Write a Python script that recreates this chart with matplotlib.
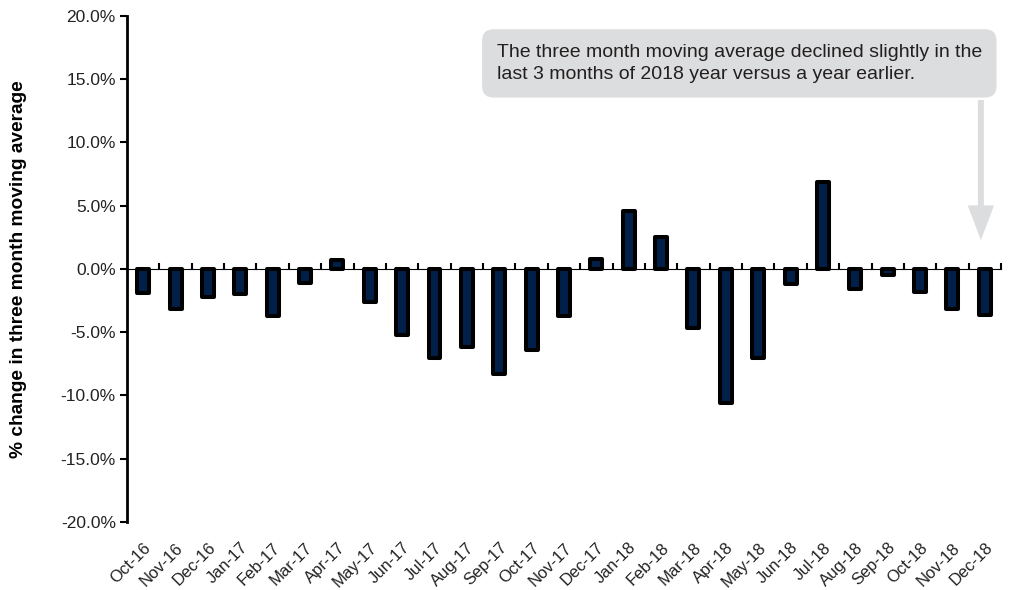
import matplotlib
matplotlib.use("Agg")
import matplotlib.pyplot as plt
from matplotlib.ticker import FuncFormatter
import numpy as np

months = ["Oct-16", "Nov-16", "Dec-16", "Jan-17", "Feb-17", "Mar-17", "Apr-17",
          "May-17", "Jun-17", "Jul-17", "Aug-17", "Sep-17", "Oct-17", "Nov-17",
          "Dec-17", "Jan-18", "Feb-18", "Mar-18", "Apr-18", "May-18", "Jun-18",
          "Jul-18", "Aug-18", "Sep-18", "Oct-18", "Nov-18", "Dec-18"]
pct_change = [-1.9, -3.2, -2.2, -2.0, -3.7, -1.1, 0.7, -2.6, -5.2, -7.0, -6.2, -8.3,
              -6.4, -3.7, 0.8, 4.6, 2.5, -4.7, -10.6, -7.0, -1.2, 6.9, -1.6, -0.5,
              -1.8, -3.2, -3.6]
y_ticks = [-20, -15, -10, -5, 0, 5, 10, 15, 20]
note = ("The three month moving average declined slightly in the\n"
        "last 3 months of 2018 year versus a year earlier.")

plt.rcParams['font.family'] = ['Liberation Sans Narrow', 'Liberation Sans', 'DejaVu Sans']

fig = plt.figure(figsize=(10.11, 5.90), dpi=100)
ax = fig.add_axes([0.1256, 0.1153, 0.8645, 0.8576])

x = np.arange(len(months))
ax.bar(x, pct_change, width=0.37, color="#00204A", edgecolor="black",
       linewidth=2.9, joinstyle="round", zorder=3)

ax.set_xlim(-0.5, len(months) - 0.5)
ax.set_ylim(-20, 20)
ax.set_yticks(y_ticks)
ax.yaxis.set_major_formatter(FuncFormatter(lambda v, p: f"{v:.1f}%"))
ax.tick_params(axis='y', direction='out', length=5, width=1.5, labelsize=12.5, pad=3,
               labelcolor="#222222")

ax.set_xticks(x)
ax.set_xticklabels(months, rotation=45, ha='right', rotation_mode='anchor', fontsize=12,
                   color="#222222")
ax.tick_params(axis='x', length=0, pad=13)

for s in ["top", "right", "bottom"]:
    ax.spines[s].set_visible(False)
ax.spines["left"].set_linewidth(2)

# zero line with category boundary ticks
sec = ax.secondary_xaxis(0.5)
sec.set_xticks(np.arange(len(months)) + 0.5)
sec.set_xticklabels([])
sec.tick_params(axis='x', direction='out', length=4, width=1.5)
sec.spines["bottom"].set_linewidth(2)

ax.set_ylabel("% change in three month moving average", fontsize=13.8,
              fontweight='bold', labelpad=24)

ax.text(0.423, 0.945, note, transform=ax.transAxes, fontsize=14, va='top', ha='left',
        color="#231F20", linespacing=1.4, zorder=5,
        bbox=dict(boxstyle="round,pad=0.75,rounding_size=0.6", fc="#DCDDDE", ec="none"))

ax.annotate("", xy=(0.977, 0.557), xycoords='axes fraction',
            xytext=(0.977, 0.834), textcoords='axes fraction',
            arrowprops=dict(width=4.3, headwidth=19, headlength=25, shrink=0,
                            fc="#DCDDDE", ec="none"), zorder=4)

fig.savefig("out.png", dpi=100)
